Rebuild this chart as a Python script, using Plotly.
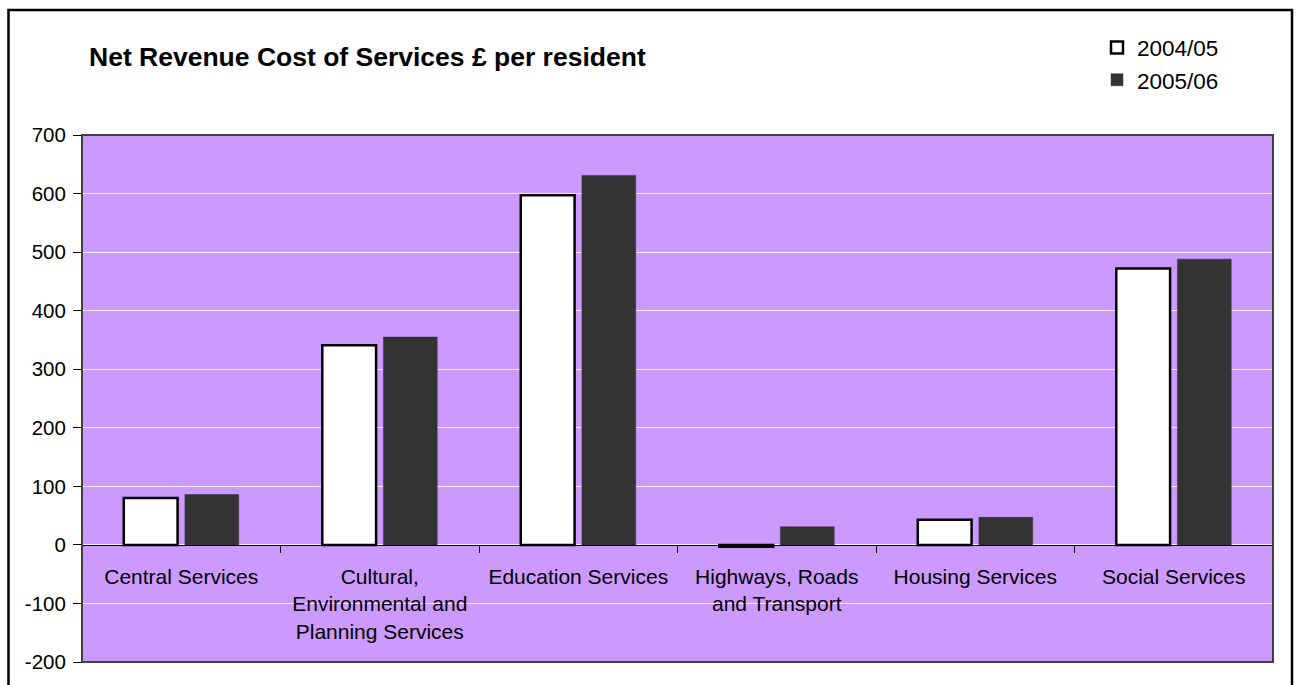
import plotly.graph_objects as go

categories = [
    "Central Services",
    "Cultural,<br>Environmental and<br>Planning Services",
    "Education Services",
    "Highways, Roads<br>and Transport",
    "Housing Services",
    "Social Services",
]
series_names = ["2004/05", "2005/06"]
values_2004 = [80, 341, 597, -3, 43, 472]
values_2005 = [86, 355, 631, 31, 47, 488]
y_ticks = [-200, -100, 0, 100, 200, 300, 400, 500, 600, 700]
y_tick_labels = ["-200", "-100", "0", "100", "200", "300", "400", "500", "600", "700"]
title_text = "<b>Net Revenue Cost of Services £ per resident</b>"

W, H = 1297, 685
ML, MR, MT, MB = 82, 24, 135, 21
PW, PH = W - ML - MR, H - MT - MB
ymin, ymax = -200, 700
FONT = "Liberation Sans, Arial, sans-serif"

def px_to_paper_x(px):
    return (px - ML) / PW

def px_to_paper_y(py):
    return (H - MB - py) / PH

fig = go.Figure()
fig.add_trace(go.Bar(
    x=categories, y=values_2004, name=series_names[0],
    marker=dict(color="#FFFFFF", line=dict(color="#000000", width=2.5)),
    legendgroup="a",
))
fig.add_trace(go.Bar(
    x=categories, y=values_2005, name=series_names[1],
    marker=dict(color="#333333", line=dict(color="#333333", width=0.5)),
    legendgroup="b",
))

zero_pos = (0 - ymin) / (ymax - ymin)

fig.update_layout(
    width=W, height=H,
    margin=dict(l=ML, r=MR, t=MT, b=MB, pad=0),
    paper_bgcolor="#FFFFFF",
    plot_bgcolor="#CC99FF",
    barmode="group",
    bargap=0.384,
    bargroupgap=0.12,
    font=dict(family=FONT, color="#000000"),
    title=dict(
        text=title_text,
        font=dict(family=FONT, size=26.5, color="#000000"),
        x=89 / W, xref="container", xanchor="left",
        y=1 - 57 / H, yref="container", yanchor="middle",
    ),
    legend=dict(
        x=px_to_paper_x(1097), xanchor="left",
        y=px_to_paper_y(26), yanchor="top",
        font=dict(family=FONT, size=22.5, color="#000000"),
        bgcolor="rgba(0,0,0,0)",
        tracegroupgap=0,
        itemwidth=30,
        traceorder="grouped",
    ),
    xaxis=dict(
        type="category",
        anchor="free",
        position=zero_pos,
        showline=True, linecolor="#000000", linewidth=1,
        ticks="outside", ticklen=7, tickcolor="#000000", tickwidth=1,
        tickson="boundaries",
        tickfont=dict(family=FONT, size=21, color="#000000"),
        ticklabelstandoff=13,
        showgrid=False,
        zeroline=False,
    ),
    yaxis=dict(
        range=[ymin, ymax],
        tickvals=y_ticks,
        ticktext=y_tick_labels,
        ticks="outside", ticklen=8, tickcolor="#000000", tickwidth=1,
        tickfont=dict(family=FONT, size=20.5, color="#000000"),
        ticklabelstandoff=3,
        showgrid=True, gridcolor="rgba(255,255,255,0.85)", gridwidth=1,
        zeroline=False,
        showline=False,
    ),
    shapes=[
        dict(type="rect", xref="paper", yref="paper", x0=0, x1=1, y0=0, y1=1,
             line=dict(color="#404040", width=2), fillcolor="rgba(0,0,0,0)", layer="above"),
        dict(type="rect", xref="paper", yref="paper",
             x0=px_to_paper_x(8.5), x1=px_to_paper_x(1292),
             y0=px_to_paper_y(720), y1=px_to_paper_y(9.5),
             line=dict(color="#000000", width=2.5), fillcolor="rgba(0,0,0,0)", layer="above"),
    ],
)

fig.write_html("out.html")
